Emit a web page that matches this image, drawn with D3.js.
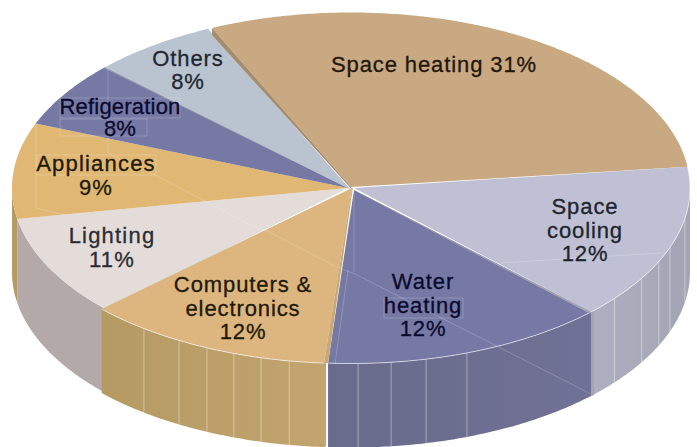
<!DOCTYPE html>
<html lang="en">
<head>
    <meta charset="UTF-8">
    <title>Energy use</title>
    <script src="https://cdn.jsdelivr.net/npm/d3@7/dist/d3.min.js"></script>
    <style>
        html, body { margin: 0; padding: 0; background: #fff; }
        svg { display: block; }
    </style>
</head>
<body>
<script>
    // labels as printed on the chart (they add up to 103, as in the picture)
    var categories = ["Space heating", "Space cooling", "Water heating", "Computers & electronics",
        "Lighting", "Appliances", "Refigeration", "Others"];
    var percents = [31, 12, 12, 12, 11, 9, 8, 8];
    // share of the circle each wedge really gets in the tilted drawing
    var drawnShare = [29.8, 14.4, 13.6, 11.8, 9.3, 8.8, 6.1, 6.0];

    var labelLines = [["Space heating 31%"], ["Space", "cooling", "12%"], ["Water", "heating", "12%"],
        ["Computers &", "electronics", "12%"], ["Lighting", "11%"], ["Appliances", "9%"],
        ["Refigeration", "8%"], ["Others", "8%"]];

    // styles
    var topColors = ["#c9a982", "#bfc0d3", "#7579a4", "#dcb67e", "#e3dcd9", "#e0b874", "#7679a3", "#b9c4d0"];
    var wallLeft = ["#a68c6c", "#aeafc0", "#696b8b", "#b59a63", "#b3a9a8", "#b59a63", "#66688c", "#a0aab5"];
    var wallRight = ["#a68c6c", "#a3a5b5", "#707196", "#c2a46e", "#b3a9a8", "#b59a63", "#66688c", "#a0aab5"];
    var textColors = ["#22160c", "#20242e", "#0a0a2e", "#211808", "#2b2c33", "#211808", "#0a0a2e", "#22272e"];
    // label anchors on the page, first baseline
    var labelPos = [[434, 72], [585, 214], [423, 289], [243, 292], [112, 243], [96, 171], [120, 114], [188, 66]];
    var labelSpacing = [0.9, 0.9, 0.9, 0.9, 1.2, 1.2, 0.2, 0.9];
    var labelLeading = [23.5, 23.5, 23.5, 23.5, 23.5, 23.5, 22, 23];
    // side panels, in degrees round the pie
    var facetAngles = [100, 109.8, 114.8, 121, 129, 160, 167.2, 173.2, 178.8, 189.8, 194.7, 199.5, 204.4, 209.7, 216.8];
    // leftover print seams that show in the source image
    var printSeams = [
        [[108, 67], [108, 153], [155, 175], [205, 201], [250, 225], [267, 231], [337, 267], [355, 274], [591, 394]],
        [[36, 123], [36, 208], [65, 215]],
        [[60, 98], [180, 98], [180, 118], [60, 118], [60, 98]],
        [[60, 119], [147, 119], [147, 136], [60, 136], [60, 119]],
        [[37, 155], [156, 155], [156, 175], [37, 175], [37, 155]],
        [[384, 298], [463, 298], [463, 318], [384, 318], [384, 298]],
        [[500, 263], [660, 253]],
        [[354, 190], [354, 272]],
        [[348, 270], [335, 364]]
    ];

    var width = 697, height = 447;
    var cx = 351, cy = 188, rx = 339, ry = 175.5, depth = 84;

    var x = d3.scaleLinear().domain([-1, 1]).range([cx - rx, cx + rx]);
    var y = d3.scaleLinear().domain([-1, 1]).range([cy + ry, cy - ry]);

    function rim(a, dy) {
        return [x(Math.sin(a)), y(Math.cos(a)) + (dy || 0)];
    }
    function rad(d) { return d * Math.PI / 180; }
    function arcPts(a0, a1, dy) {
        var n = Math.max(2, Math.ceil(Math.abs(a1 - a0) / 0.01));
        return d3.range(n + 1).map(function (i) { return rim(a0 + (a1 - a0) * i / n, dy); });
    }

    var line = d3.line();
    var svg = d3.select("body").append("svg").attr("width", width).attr("height", height);
    var defs = svg.append("defs");

    var start = rad(-24.2);
    var total = d3.sum(drawnShare);
    var pie = d3.pie().sort(null).startAngle(start).endAngle(start + 2 * Math.PI * total / 100);
    var slices = pie(drawnShare);
    // wedge tips, and the computers wedge sits a little to the left of its neighbours
    var tips = [[351, 187], [354, 188], [354, 190], [352, 188], [348, 188], [348, 188], [348, 188], [350, 189]];
    var sliceShift = [0, 0, 0, -4, 0, 0, 0, 0];
    var drawOrder = [0, 1, 2, 4, 5, 6, 7, 3];

    // outer walls, only the part that faces us
    drawOrder.forEach(function (i) {
        var s = slices[i];
        var a0 = Math.max(s.startAngle, Math.PI / 2);
        var a1 = Math.min(s.endAngle, Math.PI * 3 / 2);
        if (a1 <= a0) return;
        var top = arcPts(a0, a1, 0);
        var bottom = arcPts(a1, a0, depth);
        var g = defs.append("linearGradient").attr("id", "wall" + i)
            .attr("gradientUnits", "userSpaceOnUse")
            .attr("x1", d3.min(top, function (p) { return p[0]; })).attr("x2", d3.max(top, function (p) { return p[0]; }))
            .attr("y1", 0).attr("y2", 0);
        g.append("stop").attr("offset", 0).attr("stop-color", wallLeft[i]);
        g.append("stop").attr("offset", 1).attr("stop-color", wallRight[i]);
        svg.append("path").attr("d", line(top.concat(bottom)) + "Z")
            .attr("transform", "translate(" + sliceShift[i] + ",0)")
            .attr("fill", "url(#wall" + i + ")");
    });

    // panel seams on the walls
    function facetX(d) {
        var a = rad(d);
        var owner = slices.findIndex(function (s) { return a >= s.startAngle && a < s.endAngle; });
        return rim(a)[0] + sliceShift[owner];
    }
    svg.selectAll("line.facet").data(facetAngles).enter().append("line")
        .attr("class", "facet")
        .attr("x1", facetX)
        .attr("x2", facetX)
        .attr("y1", function (d) { return rim(rad(d))[1]; })
        .attr("y2", function (d) { return rim(rad(d), depth)[1]; })
        .attr("stroke", "#fff").attr("stroke-opacity", 0.4).attr("stroke-width", 1);

    // end walls at the cuts
    function endWall(a, dx0, dx1, color) {
        var p = rim(a), q = rim(a, depth);
        svg.append("path")
            .attr("d", line([[p[0] + dx0, p[1]], [q[0] + dx0, q[1]], [q[0] + dx1, q[1] - 1], [p[0] + dx1, p[1] - 1]]) + "Z")
            .attr("fill", color);
    }
    endWall(slices[1].endAngle, 0, 3, "#a5a5ae");
    endWall(slices[3].startAngle, -4, -2, "#c2a46e");

    // top faces
    drawOrder.forEach(function (i) {
        var s = slices[i];
        var pts = arcPts(s.startAngle, s.endAngle, 0).map(function (p) { return [p[0] + sliceShift[i], p[1]]; });
        svg.append("path").attr("d", line([tips[i]].concat(pts)) + "Z").attr("fill", topColors[i]);
    });

    // thin pale rim over the walls
    slices.slice(1, 4).forEach(function (s, k) {
        svg.append("path").attr("d", line(arcPts(s.startAngle, s.endAngle, 0)))
            .attr("transform", "translate(" + sliceShift[k + 1] + ",0)")
            .attr("fill", "none").attr("stroke", "#fff").attr("stroke-opacity", 0.6).attr("stroke-width", 1);
    });

    // darker cut edges between wedges
    function cutEdge(p0, tip, dx, dy, color) {
        svg.append("path").attr("d", line([tip, p0, [p0[0] + dx, p0[1] + dy], [tip[0] + dx * 0.2, tip[1] + dy * 0.2]]) + "Z").attr("fill", color);
    }
    cutEdge(rim(slices[0].startAngle), tips[0], 0, 7, "#a68c6c");
    var compRim = rim(slices[3].startAngle);
    cutEdge([compRim[0] - 4, compRim[1]], tips[3], 4, 0, "#c8a873");
    cutEdge(rim(slices[1].endAngle), tips[2], -1.5, 1.5, "#a3a3b3");
    cutEdge(rim(slices[7].startAngle), tips[7], -0.5, 1, "#9ea2ad");

    svg.selectAll("path.seam").data(printSeams).enter().append("path")
        .attr("class", "seam")
        .attr("d", line)
        .attr("fill", "none")
        .attr("stroke", "#fff").attr("stroke-opacity", 0.25).attr("stroke-width", 0.8);

    // labels
    slices.forEach(function (s, i) {
        var t = svg.append("text")
            .attr("text-anchor", "middle")
            .attr("fill", textColors[i])
            .attr("stroke", textColors[i])
            .attr("stroke-width", 0.3)
            .style("font-family", "'Liberation Sans', Arial, sans-serif")
            .style("font-size", "22px")
            .style("letter-spacing", labelSpacing[i] + "px");
        labelLines[i].forEach(function (l, k) {
            t.append("tspan").attr("x", labelPos[i][0]).attr("y", labelPos[i][1] + k * labelLeading[i]).text(l);
        });
    });
</script>
</body>
</html>
